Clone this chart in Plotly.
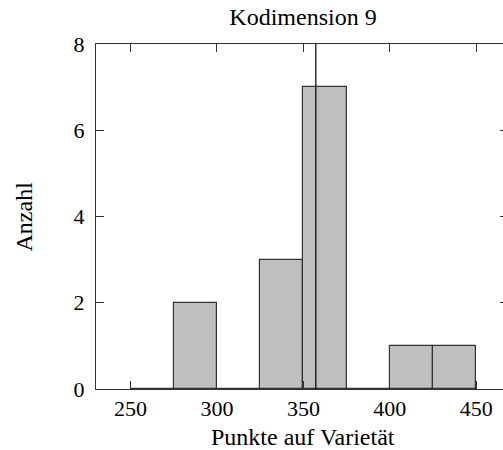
import plotly.graph_objects as go

# Histogram data (bins of width 25)
bin_starts = [250, 275, 300, 325, 350, 375, 400, 425]
counts = [0, 2, 0, 3, 7, 0, 1, 1]
bin_width = 25
marker_x = 357.2          # vertical reference line
x_ticks = [250, 300, 350, 400, 450]
y_ticks = [0, 2, 4, 6, 8]
x_range = [230, 465.5]
y_range = [0, 8]

title_text = "Kodimension 9"
x_label = "Punkte auf Varietät"
y_label = "Anzahl"

FONT = "Liberation Serif"
AX = "#333333"

centers = [s + bin_width / 2 for s in bin_starts]

fig = go.Figure()
fig.add_trace(go.Bar(
    x=centers, y=counts, width=[bin_width] * len(centers),
    marker=dict(color="#bfbfbf", line=dict(color="#333333", width=1.2)),
    showlegend=False, hoverinfo="skip",
))
fig.add_trace(go.Scatter(
    x=[marker_x, marker_x], y=y_range, mode="lines",
    line=dict(color="black", width=1.2), showlegend=False, hoverinfo="skip",
))
# invisible trace for right-side ticks
fig.add_trace(go.Scatter(x=[marker_x], y=[0], yaxis="y2", mode="markers",
                         marker=dict(opacity=0), showlegend=False, hoverinfo="skip"))

fig.update_layout(
    width=503, height=450,
    margin=dict(l=96, r=0, t=44, b=61),
    paper_bgcolor="white", plot_bgcolor="white",
    font=dict(family=FONT, size=22, color="black"),
    bargap=0,
    title=dict(text=title_text, x=303 / 503, xanchor="center",
               y=1 - 17 / 450, yanchor="middle", yref="container",
               font=dict(family=FONT, size=24, color="black")),
    xaxis=dict(range=x_range, tickvals=x_ticks, ticktext=[str(v) for v in x_ticks],
               ticks="inside", ticklen=8, tickwidth=1, tickcolor=AX,
               showline=True, linecolor=AX, linewidth=1, mirror="ticks",
               showgrid=False, zeroline=False, ticklabelstandoff=0,
               tickfont=dict(family=FONT, size=22)),
    yaxis=dict(range=y_range, tickvals=y_ticks, ticktext=[str(v) for v in y_ticks],
               ticks="inside", ticklen=8, tickwidth=1, tickcolor=AX,
               showline=True, linecolor=AX, linewidth=1,
               showgrid=False, zeroline=False, ticklabelstandoff=6,
               tickfont=dict(family=FONT, size=22)),
    yaxis2=dict(range=y_range, tickvals=y_ticks, overlaying="y", side="right",
                ticks="inside", ticklen=3, tickwidth=1, tickcolor=AX,
                showticklabels=False, showline=False, showgrid=False, zeroline=False),
    annotations=[
        dict(text=x_label, xref="paper", yref="paper",
             x=(303 - 96) / 407, y=-(437 - 389) / 345, xanchor="center", yanchor="middle",
             showarrow=False, font=dict(family=FONT, size=24, color="black")),
        dict(text=y_label, xref="paper", yref="paper",
             x=-(96 - 23) / 407, y=0.5, xanchor="center", yanchor="middle",
             textangle=-90, showarrow=False, font=dict(family=FONT, size=24, color="black")),
    ],
)

fig.write_html("out.html", config={"displayModeBar": False},
               post_script="document.body.style.margin='0px';document.body.style.overflow='hidden';")
